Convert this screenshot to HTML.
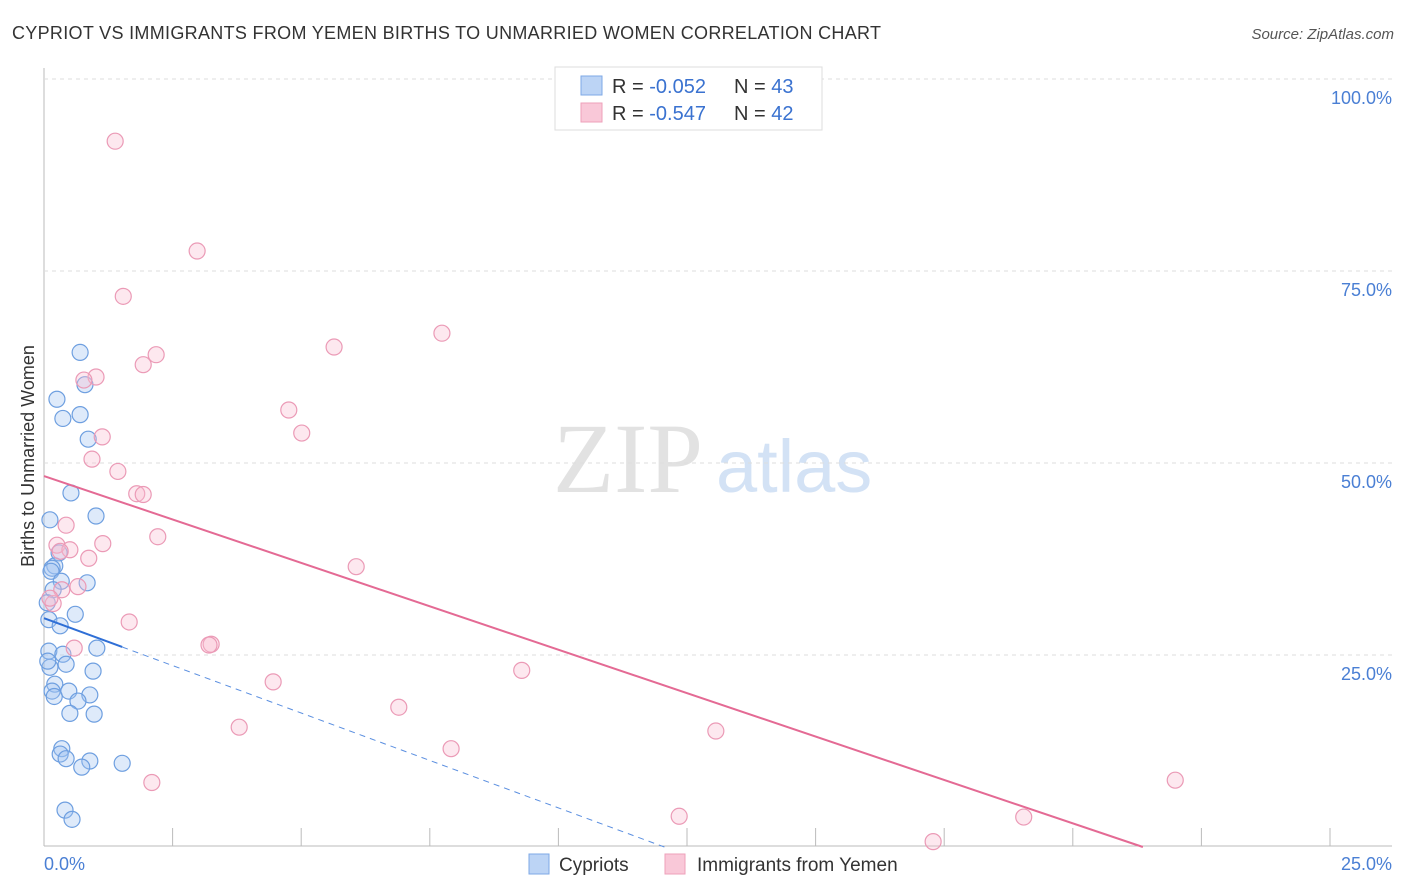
<!DOCTYPE html>
<html><head><meta charset="utf-8"><style>
body{margin:0;background:#fff;font-family:"Liberation Sans",sans-serif;}
svg{display:block}
</style></head><body>
<svg id="c" width="1406" height="892">
<text x="12" y="39" font-size="18" fill="#333" textLength="869">CYPRIOT VS IMMIGRANTS FROM YEMEN BIRTHS TO UNMARRIED WOMEN CORRELATION CHART</text>
<text x="1394" y="39" font-size="15" fill="#555" font-style="italic" text-anchor="end">Source: ZipAtlas.com</text>
<text x="34" y="456" font-size="18" fill="#333" text-anchor="middle" transform="rotate(-90 34 456)">Births to Unmarried Women</text>
<text x="553" y="492" font-size="100" fill="#e2e2e2" font-family="Liberation Serif,serif">ZIP</text>
<text x="716" y="492" font-size="74" fill="#d3e2f5">atlas</text>
<g id="grid"></g><g id="pts"></g><g id="lines"></g>
<g>
<rect x="555" y="67" width="267" height="63" fill="#fff" stroke="#ddd"/>
<rect x="581" y="76" width="21" height="19" fill="#bcd4f5" stroke="#7ea8e6"/>
<rect x="581" y="103" width="21" height="19" fill="#f9c8d8" stroke="#eea0ba"/>
<text x="612" y="93" font-size="20" fill="#333">R = <tspan fill="#3a72d0">-0.052</tspan><tspan x="734">N = </tspan><tspan fill="#3a72d0">43</tspan></text>
<text x="612" y="120" font-size="20" fill="#333">R = <tspan fill="#3a72d0">-0.547</tspan><tspan x="734">N = </tspan><tspan fill="#3a72d0">42</tspan></text>
</g>
<g>
<rect x="529" y="854" width="20" height="20" fill="#bcd4f5" stroke="#7ea8e6"/>
<text x="559" y="871" font-size="19" fill="#333">Cypriots</text>
<rect x="665" y="854" width="20" height="20" fill="#f9c8d8" stroke="#eea0ba"/>
<text x="697" y="871" font-size="19" fill="#333">Immigrants from Yemen</text>
</g>
</svg>
<script>
const yTicks=[25,50,75,100];
const yTickLabels=["25.0%","50.0%","75.0%","100.0%"];
const blueX=[0.67,0.76,0.24,0.35,0.67,0.82,0.50,0.965,0.11,0.28,0.20,0.15,0.80,0.13,0.32,0.17,0.06,0.58,0.09,0.30,0.98,0.09,0.35,0.41,0.11,0.91,0.20,0.46,0.15,0.85,0.63,0.48,0.93,0.33,0.30,0.41,0.85,0.70,1.45,0.39,0.52,0.07,0.19];
const blueY=[64.4,60.2,58.3,55.8,56.3,53.1,46.1,43.1,42.6,38.3,36.6,36.3,34.4,35.9,34.6,33.5,31.8,30.3,29.6,28.8,25.9,25.5,25.1,23.8,23.4,22.9,21.2,20.3,20.3,19.8,19.0,17.4,17.3,12.8,12.1,11.5,11.2,10.4,10.9,4.8,3.6,24.2,19.6];
const pinkX=[1.32,2.84,1.47,7.38,5.38,2.08,1.84,0.965,0.74,4.54,4.78,1.08,0.89,1.37,1.72,1.84,0.41,2.11,1.09,0.24,0.48,0.83,0.30,5.79,0.33,0.63,0.17,0.11,1.58,0.56,3.10,3.06,4.25,8.86,6.58,3.62,7.55,12.46,2.00,20.98,11.78,18.17,16.49];
const pinkY=[91.9,77.6,71.7,66.9,65.1,64.1,62.8,61.2,60.8,56.9,53.9,53.4,50.5,48.9,46.0,45.9,41.9,40.4,39.5,39.3,38.7,37.6,38.5,36.5,33.5,33.9,31.7,32.4,29.3,25.9,26.4,26.3,21.5,23.0,18.2,15.6,12.8,15.1,8.4,8.7,4.0,3.9,0.7];
const blueTrend=[29.8,-2.59], blueSolidEnd=1.45;
const pinkTrend=[48.3,-2.37];
const X=v=>44+v*53.92, Y=v=>847-v*7.68;
const NS="http://www.w3.org/2000/svg";
function mk(p,t,a){const e=document.createElementNS(NS,t);for(const k in a)e.setAttribute(k,a[k]);p.appendChild(e);return e;}
const g=document.getElementById('grid');
let ax=mk(g,'line',{x1:44,y1:68,x2:44,y2:846,stroke:'#bbb'});


let bx=mk(g,'line',{x1:44,y1:846,x2:1392,y2:846,stroke:'#bbb'});


yTicks.forEach((t,i)=>{
 const gl=mk(g,'line',{x1:44,y1:Y(t),x2:1392,y2:Y(t),stroke:'#ddd','stroke-dasharray':'4,4'});
 
 
 const tx=mk(g,'text',{x:1392,y:Y(t)+25,'font-size':18,fill:'#4a7fd4','text-anchor':'end'});
 tx.textContent=yTickLabels[i];
 
 
});
for(let i=1;i<=10;i++){const x=44+i*128.6;
 const tk=mk(g,'line',{x1:x,y1:828,x2:x,y2:846,stroke:'#bbb'});
 
 }
const l0=mk(g,'text',{x:44,y:870,'font-size':18,fill:'#4a7fd4'});l0.textContent='0.0%';


const l1=mk(g,'text',{x:1392,y:870,'font-size':18,fill:'#4a7fd4','text-anchor':'end'});l1.textContent='25.0%';


const P=document.getElementById('pts');
blueX.forEach((x,i)=>{const c=mk(P,'circle',{cx:X(x),cy:Y(blueY[i]),r:8,fill:'rgba(160,195,240,0.35)',stroke:'#6e9fe0','stroke-width':1.2});
 
 });
pinkX.forEach((x,i)=>{const c=mk(P,'circle',{cx:X(x),cy:Y(pinkY[i]),r:8,fill:'rgba(248,190,210,0.35)',stroke:'#eb9ab6','stroke-width':1.2});
 
 });
const L=document.getElementById('lines');
const pz=-pinkTrend[0]/pinkTrend[1];
const pl=mk(L,'line',{x1:X(0),y1:Y(pinkTrend[0]),x2:X(pz),y2:Y(0),stroke:'#e46a94','stroke-width':2});


const bz=-blueTrend[0]/blueTrend[1];
const bs=mk(L,'line',{x1:X(0),y1:Y(blueTrend[0]),x2:X(blueSolidEnd),y2:Y(blueTrend[0]+blueTrend[1]*blueSolidEnd),stroke:'#2f6fd6','stroke-width':2});


const bd=mk(L,'line',{x1:X(blueSolidEnd),y1:Y(blueTrend[0]+blueTrend[1]*blueSolidEnd),x2:X(bz),y2:Y(0),stroke:'#5b8fe0','stroke-width':1,'stroke-dasharray':'6,5'});


</script>
</body></html>
